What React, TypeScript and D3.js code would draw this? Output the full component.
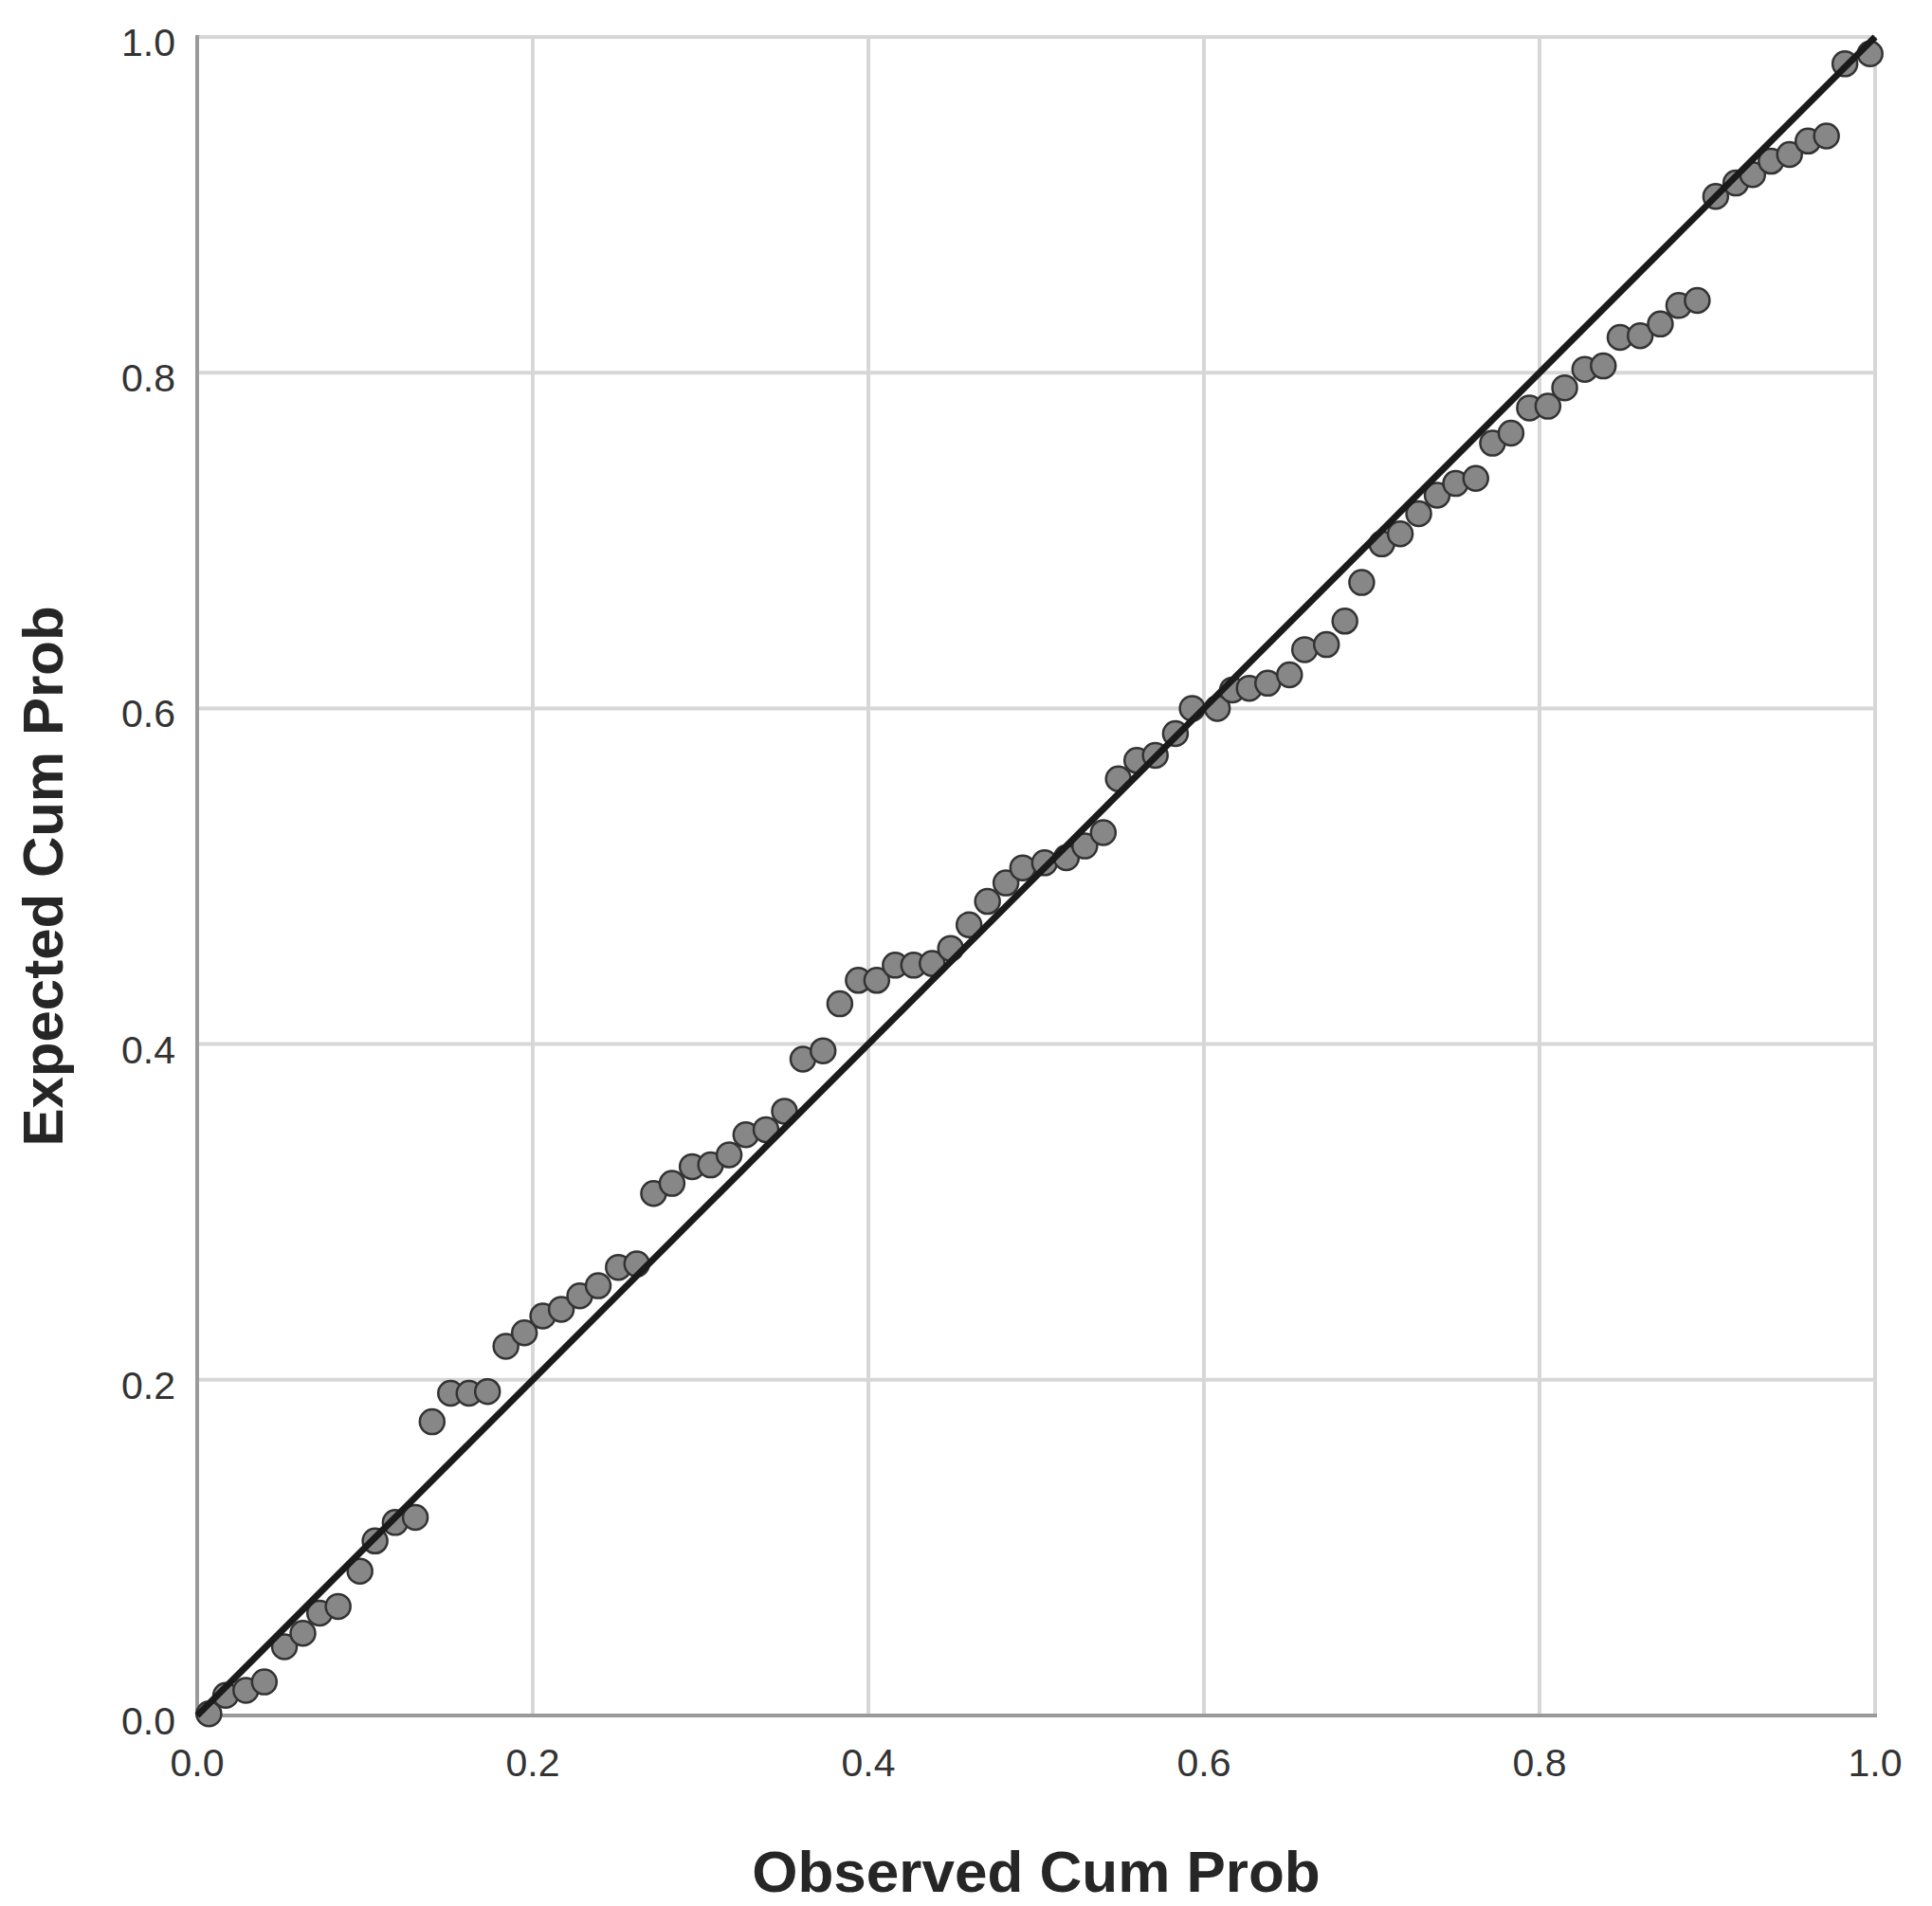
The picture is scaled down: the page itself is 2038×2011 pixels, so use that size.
import React from "react";
import * as d3 from "d3";

const observed: number[] = [
  0.007, 0.017, 0.029, 0.040, 0.052, 0.063, 0.073, 0.084, 0.097, 0.106,
  0.118, 0.130, 0.140, 0.151, 0.162, 0.173, 0.184, 0.195, 0.206, 0.217,
  0.228, 0.239, 0.251, 0.262, 0.272, 0.283, 0.295, 0.306, 0.317, 0.327,
  0.339, 0.350, 0.361, 0.373, 0.383, 0.394, 0.405, 0.416, 0.427, 0.438,
  0.449, 0.460, 0.471, 0.482, 0.492, 0.505, 0.518, 0.529, 0.540, 0.549,
  0.560, 0.571, 0.583, 0.593, 0.608, 0.617, 0.627, 0.638, 0.651, 0.660,
  0.673, 0.684, 0.694, 0.706, 0.717, 0.728, 0.739, 0.750, 0.762, 0.772,
  0.783, 0.794, 0.805, 0.815, 0.827, 0.838, 0.848, 0.860, 0.872, 0.883,
  0.894, 0.905, 0.917, 0.927, 0.938, 0.949, 0.960, 0.971, 0.982, 0.997,
];

const expected: number[] = [
  0.001, 0.012, 0.015, 0.020, 0.041, 0.049, 0.061, 0.065, 0.086, 0.104,
  0.115, 0.118, 0.175, 0.192, 0.192, 0.193, 0.220, 0.228, 0.238, 0.242,
  0.250, 0.256, 0.267, 0.269, 0.311, 0.317, 0.327, 0.328, 0.334, 0.346,
  0.349, 0.360, 0.391, 0.396, 0.424, 0.438, 0.438, 0.447, 0.447, 0.448,
  0.457, 0.471, 0.485, 0.496, 0.505, 0.508, 0.511, 0.518, 0.526, 0.558,
  0.569, 0.572, 0.585, 0.600, 0.600, 0.611, 0.612, 0.615, 0.620, 0.635,
  0.638, 0.652, 0.675, 0.698, 0.704, 0.716, 0.727, 0.734, 0.737, 0.758,
  0.764, 0.779, 0.780, 0.791, 0.802, 0.804, 0.821, 0.822, 0.829, 0.840,
  0.843, 0.905, 0.913, 0.918, 0.926, 0.930, 0.938, 0.941, 0.984, 0.990,
];

const tickValues: number[] = [0, 0.2, 0.4, 0.6, 0.8, 1.0];
const tickLabels: string[] = ["0.0", "0.2", "0.4", "0.6", "0.8", "1.0"];
const xTitle = "Observed Cum Prob";
const yTitle = "Expected Cum Prob";

const W = 2022;
const H = 2003;
const M = { left: 200, right: 1970, top: 31, bottom: 1802 };

export default function App() {
  const x = d3.scaleLinear().domain([0, 1]).range([M.left, M.right]);
  const y = d3.scaleLinear().domain([0, 1]).range([M.bottom, M.top]);
  const line = d3.line<[number, number]>()
    .x((d) => x(d[0]))
    .y((d) => y(d[1]));
  const diag = line([[0, 0], [1, 1]]) || "";
  const font = "'Liberation Sans', Arial, Helvetica, sans-serif";

  return (
    <svg width={W} height={H} style={{ display: "block" }}>
      <rect x={0} y={0} width={W} height={H} fill="#ffffff" />
      {/* grid */}
      {tickValues.filter((t) => t > 0).map((t, i) => (
        <line key={"gx" + i} x1={x(t)} x2={x(t)} y1={y(0)} y2={y(1)}
          stroke="#d7d7d7" strokeWidth={4} />
      ))}
      {tickValues.filter((t) => t > 0).map((t, i) => (
        <line key={"gy" + i} x1={x(0)} x2={x(1)} y1={y(t)} y2={y(t)}
          stroke="#d7d7d7" strokeWidth={4} />
      ))}
      {/* axes */}
      <line x1={x(0)} x2={x(0)} y1={y(0) + 2} y2={y(1) - 2} stroke="#9a9a9a" strokeWidth={4} />
      <line x1={x(0) - 2} x2={x(1) + 2} y1={y(0)} y2={y(0)} stroke="#9a9a9a" strokeWidth={4} />
      {/* points */}
      {observed.map((o, i) => (
        <circle key={"p" + i} cx={x(o)} cy={y(expected[i])} r={13}
          fill="#878787" stroke="#333333" strokeWidth={2.5} />
      ))}
      {/* reference line */}
      <path d={diag} stroke="#1a1a1a" strokeWidth={7} fill="none" />
      {/* tick labels */}
      {tickValues.map((t, i) => (
        <text key={"ty" + i} x={177} y={y(t) + 20} textAnchor="end"
          fontFamily={font} fontSize={41} fill="#333333">{tickLabels[i]}</text>
      ))}
      {tickValues.map((t, i) => (
        <text key={"tx" + i} x={x(t)} y={1866} textAnchor="middle"
          fontFamily={font} fontSize={41} fill="#333333">{tickLabels[i]}</text>
      ))}
      {/* titles */}
      <text x={(M.left + M.right) / 2} y={1988} textAnchor="middle"
        fontFamily={font} fontSize={62} fontWeight="bold" fill="#262626">{xTitle}</text>
      <text transform={`translate(58, ${(M.top + M.bottom) / 2}) rotate(-90)`} textAnchor="middle"
        fontFamily={font} fontSize={60} fontWeight="bold" fill="#262626">{yTitle}</text>
    </svg>
  );
}
